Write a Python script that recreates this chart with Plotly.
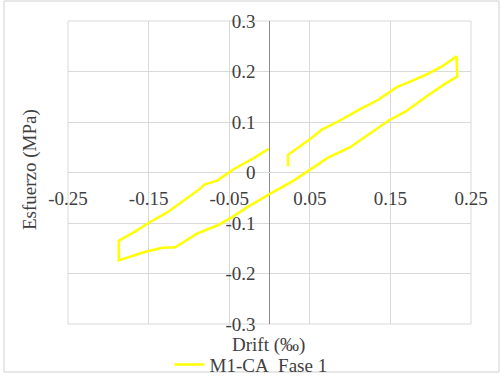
import plotly.graph_objects as go

# Hysteresis loop: drift (per mille) vs. stress (MPa)
drift = [0.023, 0.023, 0.051, 0.065, 0.084, 0.113, 0.134, 0.158, 0.173, 0.196, 0.214,
         0.232, 0.233, 0.218, 0.196, 0.169, 0.148, 0.125, 0.100, 0.072, 0.051, 0.030,
         0.001, -0.028, -0.048, -0.065, -0.090, -0.117, -0.133, -0.156, -0.187, -0.187,
         -0.168, -0.148, -0.127, -0.106, -0.086, -0.081, -0.065, -0.044, -0.019, -0.001]
stress = [0.012, 0.035, 0.067, 0.085, 0.100, 0.126, 0.143, 0.169, 0.179, 0.195, 0.210,
          0.230, 0.190, 0.176, 0.152, 0.121, 0.103, 0.077, 0.050, 0.029, 0.007, -0.016,
          -0.042, -0.069, -0.090, -0.105, -0.121, -0.148, -0.149, -0.158, -0.174, -0.135,
          -0.118, -0.098, -0.079, -0.055, -0.032, -0.024, -0.016, 0.007, 0.029, 0.047]
series_name = "M1-CA\u00a0 Fase 1"

x_ticks = [-0.25, -0.15, -0.05, 0.05, 0.15, 0.25]
x_tick_text = ["-0.25", "-0.15", "-0.05", "0.05", "0.15", "0.25"]
y_ticks = [-0.3, -0.2, -0.1, 0.0, 0.1, 0.2, 0.3]
y_tick_text = ["-0.3", "-0.2", "-0.1", "0", "0.1", "0.2", "0.3"]

FONT = "Times New Roman, Liberation Serif, serif"
TXT = "#404040"
GRID = "#d9d9d9"

# plot-area geometry in pixels (used to place titles and frame in paper units)
L, R, T, B = 68, 471, 21, 324
PW, PH = R - L, B - T


def px(x):
    return (x - L) / PW


def py(y):
    return (B - y) / PH


fig = go.Figure()
fig.add_trace(go.Scatter(
    x=drift, y=stress, mode="lines", name=series_name,
    line=dict(color="#ffff00", width=2.5),
    showlegend=True,
))

fig.update_layout(
    width=502, height=376,
    margin=dict(l=L, r=502 - R, t=T, b=376 - B, autoexpand=False),
    paper_bgcolor="white", plot_bgcolor="white",
    font=dict(family=FONT, size=19, color=TXT),
    xaxis=dict(
        range=[-0.25, 0.25], tickvals=x_ticks, ticktext=x_tick_text,
        showgrid=True, gridcolor=GRID, gridwidth=1,
        zeroline=True, zerolinecolor="#8c8c8c", zerolinewidth=1,
        showline=False, ticks="", anchor="free", position=0.5,
        ticklabelstandoff=12, tickfont=dict(family=FONT, size=19, color=TXT),
        automargin=False,
    ),
    yaxis=dict(
        range=[-0.3, 0.3], tickvals=y_ticks, ticktext=y_tick_text,
        showgrid=True, gridcolor=GRID, gridwidth=1,
        zeroline=True, zerolinecolor=GRID, zerolinewidth=1,
        showline=False, ticks="", anchor="free", position=0.5,
        ticklabelstandoff=14, tickfont=dict(family=FONT, size=19, color=TXT),
        automargin=False,
    ),
    legend=dict(
        orientation="h", xref="container", yref="container",
        x=0.5, xanchor="center", y=0.03, yanchor="middle",
        font=dict(family=FONT, size=19, color=TXT), bgcolor="rgba(0,0,0,0)",
        itemwidth=30,
    ),
    annotations=[
        dict(text="Esfuerzo (MPa)", xref="paper", yref="paper",
             x=px(30), y=py(170), xanchor="center", yanchor="middle",
             textangle=-90, showarrow=False,
             font=dict(family=FONT, size=19, color=TXT)),
        dict(text="Drift (\u2030)", xref="paper", yref="paper",
             x=px(268), y=py(345), xanchor="center", yanchor="middle",
             showarrow=False, font=dict(family=FONT, size=19, color=TXT)),
    ],
    shapes=[
        # plot-area frame
        dict(type="rect", xref="paper", yref="paper", x0=0, y0=0, x1=1, y1=1,
             line=dict(color=GRID, width=1), layer="below"),
        # chart-area frame
        dict(type="rect", xref="paper", yref="paper",
             x0=px(4), x1=px(499), y0=py(372), y1=py(1),
             line=dict(color="#d0d0d0", width=1), layer="below"),
    ],
)

fig.write_html("out.html")
